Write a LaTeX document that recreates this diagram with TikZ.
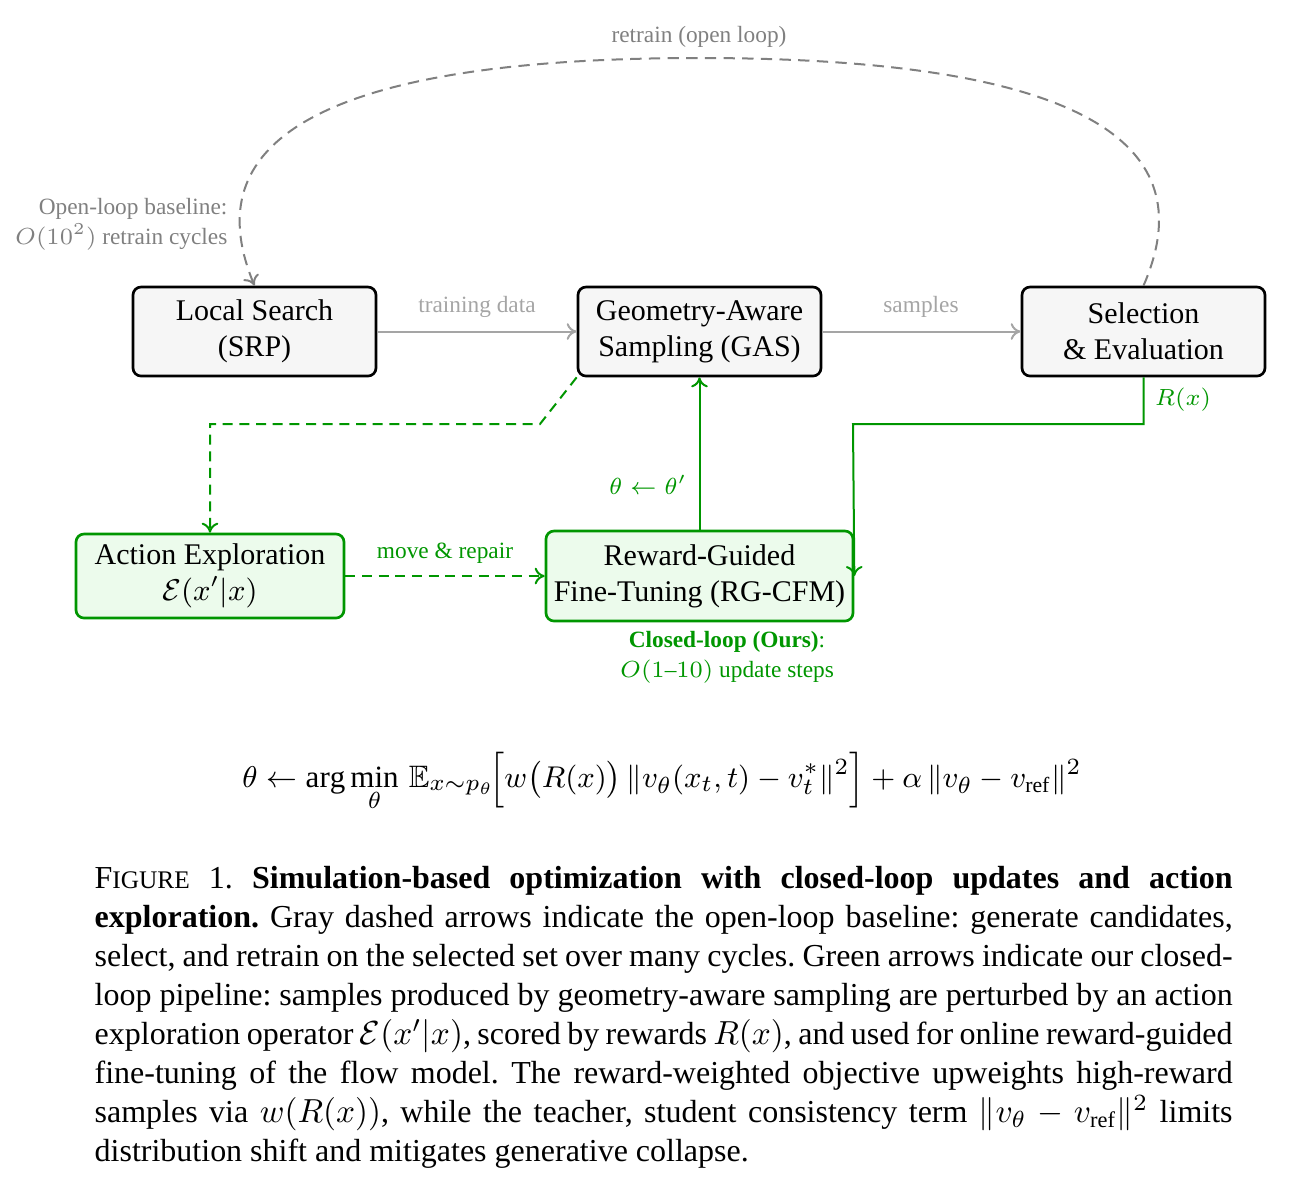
\documentclass[tikz,border=0pt]{standalone}
\usepackage{amsmath,amssymb}
\usepackage{fontspec}
\setmainfont{Liberation Serif}
\usetikzlibrary{arrows.meta}
\definecolor{cgreen}{RGB}{0,150,0}
\definecolor{cgfill}{RGB}{236,251,236}
\definecolor{ctfill}{RGB}{246,246,246}
\definecolor{clight}{RGB}{165,165,165}
\definecolor{cdash}{RGB}{128,128,128}
\tikzset{
  topbox/.style={draw=black, fill=ctfill, line width=0.8pt, rounded corners=2.4pt, align=center,
    minimum width=72.9pt, minimum height=26.7pt, inner sep=0pt, font=\fontsize{9}{10.8}\selectfont},
  greenbox/.style={draw=cgreen, fill=cgfill, line width=0.8pt, rounded corners=2.4pt, align=center,
    minimum height=25.2pt, inner sep=0pt, font=\fontsize{9}{10.8}\selectfont},
  lbl/.style={font=\fontsize{7}{9}\selectfont, inner sep=0pt},
  solidgray/.style={draw=clight, line width=0.6pt, -{To[length=3pt,width=5pt]}},
  dashgray/.style={draw=cdash, line width=0.6pt, dash pattern=on 3.4pt off 2.2pt, -{To[length=3pt,width=5pt]}},
  greenarrow/.style={draw=cgreen, line width=0.6pt, -{To[length=3pt,width=5pt]}},
  greendash/.style={draw=cgreen, line width=0.6pt, dash pattern=on 3pt off 2pt, -{To[length=3pt,width=5pt]}},
}
\frenchspacing
\begin{document}
\begin{tikzpicture}[x=0.3pt,y=-0.3pt]
\useasboundingbox (0,0) rectangle (1291,1185);
% boxes
\node[topbox] (ls) at (254.5,331.5) {Local Search\\(SRP)};
\node[topbox] (gas) at (699.5,331.5) {Geometry-Aware\\Sampling (GAS)};
\node[topbox] (sel) at (1143.5,331.5) {Selection\\\& Evaluation};
\node[greenbox, minimum width=80.4pt] (ae) at (210,576) {Action Exploration\\$\mathcal{E}(x'|x)$};
\node[greenbox, minimum width=92.1pt, minimum height=27pt] (rg) at (699.5,576) {Reward-Guided\\Fine-Tuning (RG-CFM)};
% gray solid
\draw[solidgray] (ls) -- (gas);
\node[lbl, text=clight] (ltd) at (477,307) {training data};
\draw[solidgray] (gas) -- (sel);
\node[lbl, text=clight] (lsa) at (921,307) {samples};
% open loop
\coordinate (top) at (699,58);
\draw[dashgray] (sel.north) .. controls (1185,190) and (1175,58) .. (top) .. controls (225,58) and (215,190) .. (ls.north);
\node[lbl, text=cdash] (lre) at (699,37) {retrain (open loop)};
\node[lbl, text=cdash, align=right, anchor=east] (lob) at (228,224) {Open-loop baseline:\\$O(10^2)$ retrain cycles};
% green
\coordinate (b1) at (540,424);
\draw[greendash] (gas.south west) -- (b1) -| (ae.north);
\draw[greendash] (ae) -- (rg);
\node[lbl, text=cgreen] (lmr) at (445,553) {move \& repair};
\draw[greenarrow] (rg) -- (gas);
\node[lbl, text=cgreen] (lth) at (648,485) {$\theta \leftarrow \theta'$};
\coordinate (b2) at (853,424);
\draw[greenarrow] (sel.south) |- (b2) -- (rg.east);
\node[lbl, text=cgreen] (lrx) at (1183,400) {$R(x)$};
\node[lbl, text=cgreen, align=center] (lcl) at (727,657) {\textbf{Closed-loop (Ours)}:\\$O(1\text{--}10)$ update steps};
% equation
\node[inner sep=0pt, font=\fontsize{9.3}{11}\selectfont] (eq) at (662,782) {$\theta \leftarrow \arg\min\limits_{\theta}\, \mathbb{E}_{x\sim p_\theta}\!\Big[w\big(R(x)\big)\,\|v_\theta(x_t,t)-v_t^*\|^2\Big] + \alpha\,\|v_\theta - v_{\mathrm{ref}}\|^2$};
% caption
\node[anchor=north west, inner sep=0pt, text width=341.4pt, align=justify, font=\fontsize{9.6}{11.7}\selectfont] (cap) at (94,866) {\hyphenpenalty=10000\exhyphenpenalty=0 F{\fontsize{7.6}{9}\selectfont IGURE} 1. \textbf{Simulation-based optimization with closed-loop updates and action\linebreak exploration.} Gray dashed arrows indicate the open-loop baseline: generate candidates,\linebreak select, and retrain on the selected set over many cycles. Green arrows indicate our closed-\linebreak loop pipeline: samples produced by geometry-aware sampling are perturbed by an action\linebreak exploration operator $\mathcal{E}(x'|x)$, scored by rewards $R(x)$, and used for online reward-guided\linebreak fine-tuning of the flow model. The reward-weighted objective upweights high-reward\linebreak samples via $w(R(x))$, while the teacher, student consistency term $\|v_\theta - v_{\mathrm{ref}}\|^2$ limits\linebreak distribution shift and mitigates generative collapse.};
\end{tikzpicture}
\end{document}
